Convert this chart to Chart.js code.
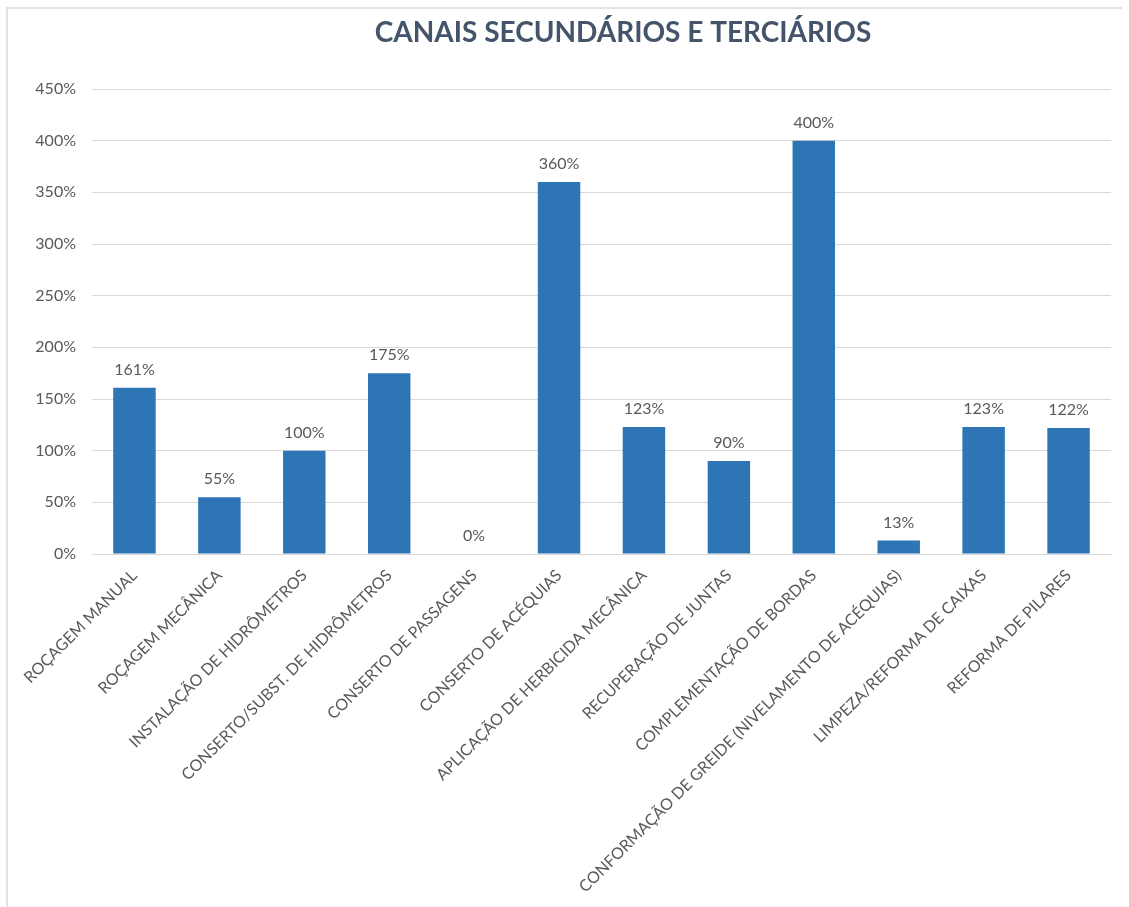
<!DOCTYPE html>
<html>
<head>
<meta charset="utf-8">
<script src="https://cdn.jsdelivr.net/npm/chart.js@4"></script>
<style>
  html, body { margin: 0; padding: 0; background: #ffffff; }
  #wrap { position: relative; width: 1129px; height: 907px; }
  #frame { position: absolute; left: 6px; top: 7px; width: 1116px; height: 900px;
           border-left: 2px solid #e3e3e3; border-top: 2px solid #e3e3e3; box-sizing: border-box; }
  canvas { position: absolute; left: 0; top: 0; }
</style>
</head>
<body>
<div id="wrap">
  <div id="frame"></div>
  <canvas id="c" width="1129" height="907"></canvas>
</div>
<script>
const titleText = 'CANAIS SECUNDÁRIOS E TERCIÁRIOS';
const categories = [
  'ROÇAGEM MANUAL',
  'ROÇAGEM MECÂNICA',
  'INSTALAÇÃO DE HIDRÔMETROS',
  'CONSERTO/SUBST. DE HIDRÔMETROS',
  'CONSERTO DE PASSAGENS',
  'CONSERTO DE ACÉQUIAS',
  'APLICAÇÃO DE HERBICIDA MECÂNICA',
  'RECUPERAÇÃO DE JUNTAS',
  'COMPLEMENTAÇÃO DE BORDAS',
  'CONFORMAÇÃO DE GREIDE (NIVELAMENTO DE ACÉQUIAS)',
  'LIMPEZA/REFORMA DE CAIXAS',
  'REFORMA DE PILARES'
];
const values = [161, 55, 100, 175, 0, 360, 123, 90, 400, 13, 123, 122];
const yTicks = [0, 50, 100, 150, 200, 250, 300, 350, 400, 450];

const FONT = 'Lato, "Open Sans", sans-serif';

const titlePlugin = {
  id: 'customTitle',
  afterDraw(chart) {
    const ctx = chart.ctx;
    ctx.save();
    ctx.font = 'bold 28px ' + FONT;
    ctx.fillStyle = '#44546A';
    ctx.textAlign = 'center';
    ctx.textBaseline = 'middle';
    ctx.fillText(titleText, 623, 33);
    ctx.restore();
  }
};

const valueLabels = {
  id: 'valueLabels',
  afterDatasetsDraw(chart) {
    const ctx = chart.ctx;
    const meta = chart.getDatasetMeta(0);
    ctx.save();
    ctx.font = '16px ' + FONT;
    ctx.fillStyle = '#595959';
    ctx.textAlign = 'center';
    ctx.textBaseline = 'bottom';
    meta.data.forEach((bar, i) => {
      ctx.fillText(values[i] + '%', bar.x, bar.y - 10);
    });
    ctx.restore();
  }
};

new Chart(document.getElementById('c'), {
  type: 'bar',
  data: {
    labels: categories,
    datasets: [{
      data: values,
      backgroundColor: '#2E75B6',
      borderWidth: 0,
      barPercentage: 0.5,
      categoryPercentage: 1.0
    }]
  },
  options: {
    responsive: false,
    animation: false,
    devicePixelRatio: 1,
    layout: { padding: { left: 10, right: 18, top: 89, bottom: 0 } },
    plugins: { legend: { display: false }, tooltip: { enabled: false }, title: { display: false } },
    scales: {
      y: {
        min: 0, max: 450,
        afterBuildTicks(scale) { scale.ticks = yTicks.map(v => ({ value: v })); },
        afterFit(scale) { scale.width = 82; },
        ticks: {
          callback: v => v + '%',
          color: '#595959',
          font: { family: FONT, size: 16 },
          padding: 16
        },
        grid: { color: '#D9D9D9', lineWidth: 1, drawTicks: false },
        border: { display: false }
      },
      x: {
        afterFit(scale) { scale.height = 353; },
        ticks: {
          color: '#595959',
          font: { family: FONT, size: 16 },
          minRotation: 45, maxRotation: 45,
          autoSkip: false,
          padding: 12
        },
        grid: { display: false, drawTicks: false },
        border: { display: true, color: '#D9D9D9', width: 1 }
      }
    }
  },
  plugins: [titlePlugin, valueLabels]
});
</script>
</body>
</html>
